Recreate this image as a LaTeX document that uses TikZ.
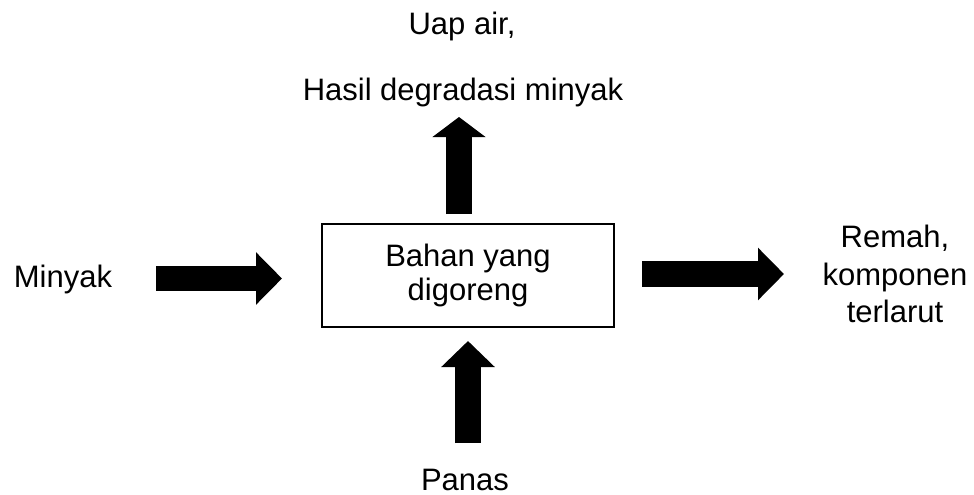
\documentclass[tikz,border=0pt]{standalone}
\usepackage{fontspec}
\setmainfont{Liberation Sans}
\usetikzlibrary{arrows.meta}
\begin{document}
\begin{tikzpicture}[x=1pt,y=-1pt,
  lbl/.style={font=\fontsize{31}{37}\selectfont, inner sep=0pt, align=center},
  procbox/.style={draw=black, line width=1.5pt, minimum width=292pt, minimum height=103pt, inner sep=0pt,
     font=\fontsize{31}{34}\selectfont, align=center},
  fatarrow/.style={draw=black, line width=#1}
]
\useasboundingbox (0,0) rectangle (974,495);
% texts
\node[lbl, anchor=base] (uap) at (462,35) {Uap air,};
\node[lbl, anchor=base] (hasil) at (463,100) {Hasil degradasi minyak};
\node[lbl, anchor=base] (minyak) at (63,287) {Minyak};
\node[lbl, anchor=base] (panas) at (465,490) {Panas};
\node[lbl, font=\fontsize{31}{37.5}\selectfont] (remah) at (895,274) {Remah,\\komponen\\terlarut};
\node[procbox] (bahan) at (468,275.5) {Bahan yang\\digoreng};
% arrow end points
\coordinate (inS) at (156,278.5);
\coordinate (inE) at (282,278.5);
\coordinate (outS) at (642,274);
\coordinate (outE) at (784,274);
\coordinate (upS) at (459,214);
\coordinate (upE) at (459,117);
\coordinate (heatS) at (468,443);
\coordinate (heatE) at (468,341);
% arrows
\draw[line width=25pt, -{Triangle[width=51pt,length=26pt]}] (inS) -- (inE);
\draw[line width=26pt, -{Triangle[width=51pt,length=26pt]}] (outS) -- (outE);
\draw[line width=26pt, -{Triangle[width=52pt,length=20pt]}] (upS) -- (upE);
\draw[line width=26pt, -{Triangle[width=52pt,length=26pt]}] (heatS) -- (heatE);
\end{tikzpicture}
\end{document}
